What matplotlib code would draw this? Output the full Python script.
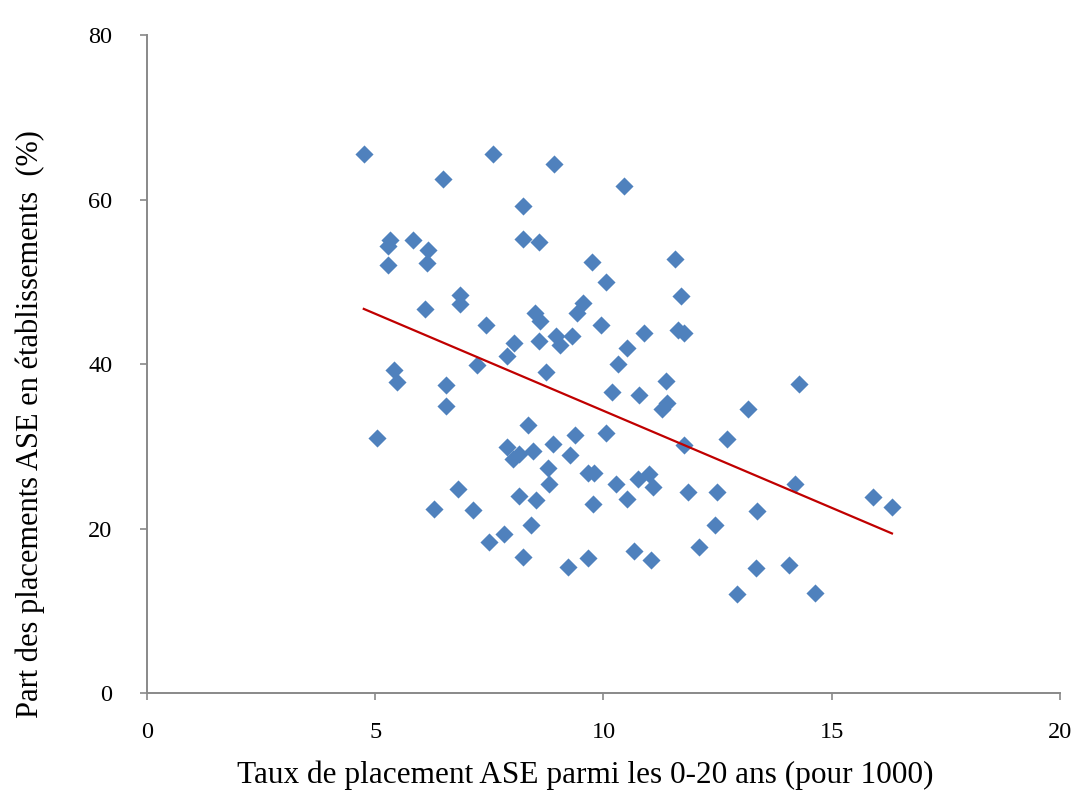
import matplotlib
matplotlib.use("Agg")
import matplotlib.pyplot as plt
import numpy as np

# Taux de placement ASE (pour 1000) et part en établissements (%)
taux = [4.75, 5.04, 5.28, 5.28, 5.32, 5.41, 5.48, 5.83, 6.09, 6.16,
        6.13, 6.29, 6.48, 6.55, 6.55, 6.81, 6.86, 6.86, 7.14, 7.23,
        7.43, 7.49, 7.58, 7.82, 7.89, 7.89, 8.02, 8.04, 8.15, 8.15,
        8.24, 8.24, 8.24, 8.35, 8.41, 8.46, 8.52, 8.50, 8.59, 8.59,
        8.61, 8.74, 8.78, 8.81, 8.89, 8.92, 8.96, 9.05, 9.22, 9.27,
        9.31, 9.38, 9.42, 9.55, 9.66, 9.66, 9.75, 9.77, 9.79, 9.95,
        10.05, 10.05, 10.19, 10.27, 10.32, 10.45, 10.51, 10.51, 10.67, 10.78,
        10.76, 10.89, 11.00, 11.04, 11.08, 11.28, 11.39, 11.37, 11.57, 11.63,
        11.70, 11.76, 11.76, 11.85, 12.09, 12.71, 12.44, 12.49, 13.17, 13.36,
        13.34, 12.92, 14.06, 14.63, 14.19, 14.28, 15.90, 16.32]
part = [65.5, 31.0, 52.0, 54.3, 55.1, 39.3, 37.8, 55.1, 46.7, 53.9,
        52.3, 22.4, 62.5, 37.4, 34.9, 24.8, 48.4, 47.3, 22.2, 39.9,
        44.7, 18.4, 65.5, 19.3, 41.0, 29.9, 28.4, 42.6, 29.1, 24.0,
        59.2, 55.2, 16.5, 32.6, 20.4, 29.4, 23.5, 46.2, 54.8, 42.8,
        45.2, 39.0, 27.4, 25.4, 30.3, 64.3, 43.4, 42.3, 15.3, 28.9,
        43.4, 31.4, 46.2, 47.4, 26.7, 16.4, 52.4, 23.0, 26.7, 44.7,
        50.0, 31.6, 36.6, 25.4, 40.0, 61.6, 41.9, 23.6, 17.3, 36.2,
        26.0, 43.8, 26.6, 16.2, 25.0, 34.5, 35.3, 37.9, 52.8, 44.1,
        48.3, 43.8, 30.2, 24.4, 17.8, 30.9, 20.4, 24.4, 34.5, 22.1,
        15.2, 12.0, 15.6, 12.2, 25.4, 37.6, 23.8, 22.6]

x_ticks = [0, 5, 10, 15, 20]
y_ticks = [0, 20, 40, 60, 80]

plt.rcParams["font.family"] = ["Liberation Serif", "DejaVu Serif"]

fig = plt.figure(figsize=(10.75, 7.94), dpi=100)
ax = fig.add_axes([0.1367, 0.1272, 0.8493, 0.8287])

ax.scatter(taux, part, marker="D", s=85, color="#4F81BD", linewidths=0, zorder=3)

# droite de tendance linéaire (comme dans Excel)
x = np.array(taux)
a, b = np.polyfit(x, np.array(part), 1)
xs = np.array([x.min(), x.max()])
ax.plot(xs, a * xs + b, color="#C00000", linewidth=1.6, zorder=4)

ax.set_xlim(0, 20)
ax.set_ylim(0, 80)
ax.set_xticks(x_ticks)
ax.set_yticks(y_ticks)

for side in ["top", "right"]:
    ax.spines[side].set_visible(False)
for side in ["left", "bottom"]:
    ax.spines[side].set_color("#898989")
    ax.spines[side].set_linewidth(1.4)

ax.tick_params(axis="both", colors="#898989", width=1.2, length=5, labelcolor="black", labelsize=17.5)
ax.tick_params(axis="y", pad=20)
ax.tick_params(axis="x", pad=16)

fig.text(585 / 1075, 1 - 775 / 794, "Taux de placement ASE parmi les 0-20 ans (pour 1000)",
         ha="center", va="center", fontsize=22.5)
fig.text(30 / 1075, 1 - 424 / 794, "Part des placements ASE en établissements  (%)",
         ha="center", va="center", rotation=90, fontsize=22)

fig.savefig("out.png", dpi=100)
